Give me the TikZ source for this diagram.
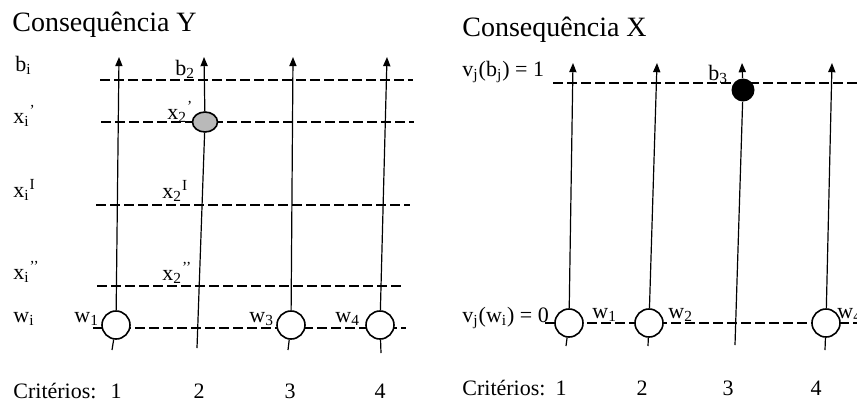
\documentclass[tikz,border=0pt]{standalone}
\usepackage{fontspec}
\setmainfont{Liberation Serif}
\usepackage{tikz}
\usetikzlibrary{positioning,arrows.meta,shapes.geometric}

\begin{document}
\begin{tikzpicture}[
  x=0.5pt, y=-0.5pt,
  axis/.style={-{Triangle[width=3.6pt,length=4.6pt]}, line width=0.6pt},
  seg/.style={line width=0.6pt},
  level/.style={dash pattern=on 5pt off 2pt, line width=0.7pt},
  wpt/.style={circle, draw, fill=white, line width=0.8pt, minimum size=14pt, inner sep=0pt},
  lbl/.style={font=\fontsize{11}{13}\selectfont, anchor=base west, inner sep=0pt},
  num/.style={font=\fontsize{11}{13}\selectfont, anchor=base, inner sep=0pt},
  title/.style={font=\fontsize{14}{17}\selectfont, anchor=base west, inner sep=0pt}
]
\useasboundingbox (0,0) rectangle (857,403);

% Consequencia Y
\node[title] (ytitle) at (12,31) {Consequência Y};
\node[lbl] (ybi) at (15,71) {b\textsubscript{i}};
\node[lbl] (yxa) at (13,123) {x\textsubscript{i}\textsuperscript{’}};
\node[lbl] (yxI) at (13,197) {x\textsubscript{i}\textsuperscript{I}};
\node[lbl] (yxb) at (13,279) {x\textsubscript{i}\textsuperscript{’’}};
\node[lbl] (ywi) at (13,322) {w\textsubscript{i}};

\coordinate (yb0) at (100,80);  \coordinate (yb1) at (413,80);
\coordinate (ya0) at (101,122); \coordinate (ya1) at (414,122);
\coordinate (yI0) at (96,205);  \coordinate (yI1) at (410,205);
\coordinate (yc0) at (97,286);  \coordinate (yc1) at (402,286);
\coordinate (yw0) at (93,328);  \coordinate (yw1) at (406,328);
\draw[level] (yb0) -- (yb1);
\draw[level] (ya0) -- (ya1);
\draw[level] (yI0) -- (yI1);
\draw[level] (yc0) -- (yc1);
\draw[level] (yw0) -- (yw1);

\coordinate (y1b) at (112,350); \coordinate (y1t) at (119,57);
\coordinate (y2b) at (197,348); \coordinate (y2t) at (204,57);
\coordinate (y3b) at (288,350); \coordinate (y3t) at (293,57);
\coordinate (y4b) at (381,353); \coordinate (y4t) at (387,57);

\node[wpt] (yw1n) at (116,325) {};
\node[ellipse, draw, fill=gray!55, line width=0.8pt, minimum width=12.5pt, minimum height=10pt, inner sep=0pt] (yx2) at (205,122) {};
\node[wpt] (yw3n) at (291,325) {};
\node[wpt] (yw4n) at (380,325) {};

\draw[seg] (y1b) -- (yw1n);  \draw[axis] (yw1n) -- (y1t);
\draw[seg] (y2b) -- (yx2);   \draw[axis] (yx2) -- (y2t);
\draw[seg] (y3b) -- (yw3n);  \draw[axis] (yw3n) -- (y3t);
\draw[seg] (y4b) -- (yw4n);  \draw[axis] (yw4n) -- (y4t);

\node[lbl] (yb2) at (175,75) {b\textsubscript{2}};
\node[lbl] (yx2a) at (167,119) {x\textsubscript{2}\textsuperscript{’}};
\node[lbl] (yx2I) at (162,198) {x\textsubscript{2}\textsuperscript{I}};
\node[lbl] (yx2b) at (162,280) {x\textsubscript{2}\textsuperscript{’’}};
\node[lbl] (yw1l) at (74,322) {w\textsubscript{1}};
\node[lbl] (yw3l) at (249,322) {w\textsubscript{3}};
\node[lbl] (yw4l) at (335,322) {w\textsubscript{4}};

\node[lbl] (ycrit) at (13,398) {Critérios:};
\node[num] (yn1) at (116,398) {1};
\node[num] (yn2) at (199,398) {2};
\node[num] (yn3) at (290,398) {3};
\node[num] (yn4) at (380,398) {4};

% Consequencia X
\node[title] (xtitle) at (462,36) {Consequência X};
\node[lbl] (xvb) at (462,76) {v\textsubscript{j}(b\textsubscript{j}) = 1};
\node[lbl] (xvw) at (462,322) {v\textsubscript{j}(w\textsubscript{i}) = 0};

\coordinate (xb0) at (553,83);  \coordinate (xb1) at (857,83);
\coordinate (xw0) at (545,323); \coordinate (xw1) at (857,323);
\draw[level] (xb0) -- (xb1);
\draw[level] (xw0) -- (xw1);

\coordinate (x1b) at (566,346); \coordinate (x1t) at (573,63);
\coordinate (x2b) at (648,346); \coordinate (x2t) at (657,63);
\coordinate (x3b) at (735,345); \coordinate (x3t) at (742,63);
\coordinate (x4b) at (825,350); \coordinate (x4t) at (832,63);

\node[wpt] (xw1n) at (569,323) {};
\node[wpt] (xw2n) at (649,323) {};
\node[circle, fill=black, minimum size=11.5pt, inner sep=0pt] (xb3) at (743,90) {};
\node[wpt] (xw4n) at (826,323) {};

\draw[seg] (x1b) -- (xw1n);  \draw[axis] (xw1n) -- (x1t);
\draw[seg] (x2b) -- (xw2n);  \draw[axis] (xw2n) -- (x2t);
\draw[seg] (x3b) -- (xb3);   \draw[axis] (xb3) -- (x3t);
\draw[seg] (x4b) -- (xw4n);  \draw[axis] (xw4n) -- (x4t);

\node[lbl] (xb3l) at (708,80) {b\textsubscript{3}};
\node[lbl] (xw1l) at (592,318) {w\textsubscript{1}};
\node[lbl] (xw2l) at (668,318) {w\textsubscript{2}};
\node[lbl] (xw4l) at (837,318) {w\textsubscript{4}};

\node[lbl] (xcrit) at (462,395) {Critérios:};
\node[num] (xn1) at (561,395) {1};
\node[num] (xn2) at (642,395) {2};
\node[num] (xn3) at (728,395) {3};
\node[num] (xn4) at (816,395) {4};

\end{tikzpicture}
\end{document}
